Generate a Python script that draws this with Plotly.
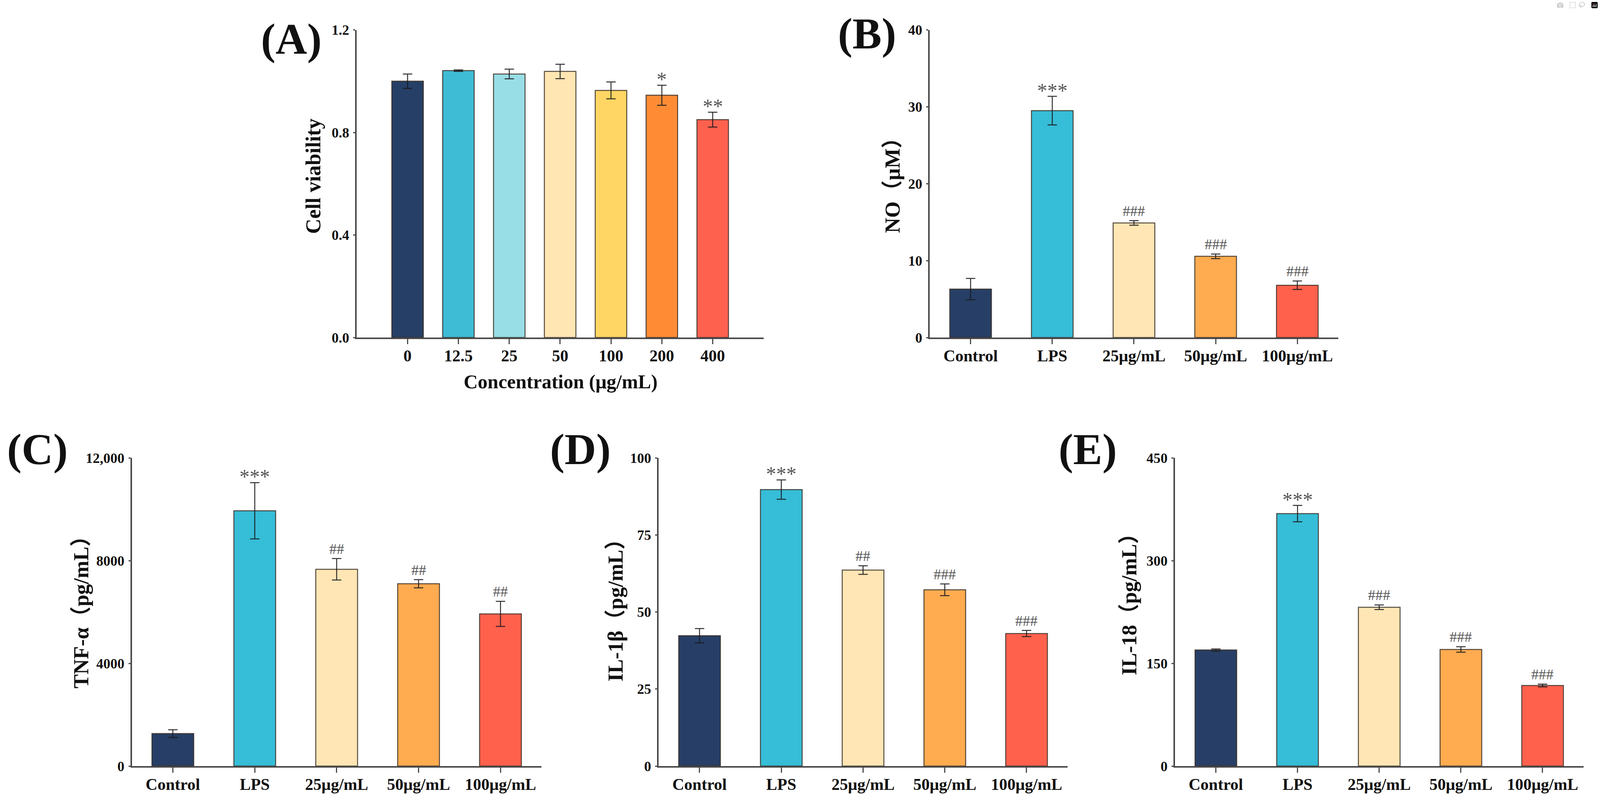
import plotly.graph_objects as go

W, H = 4149, 2076

# ---------------- data ----------------
conc_labels = ["0", "12.5", "25", "50", "100", "200", "400"]
viability = [1.00, 1.041, 1.028, 1.038, 0.964, 0.945, 0.850]
viability_err = [0.028, 0.003, 0.019, 0.028, 0.033, 0.039, 0.029]
viability_sig = ["", "", "", "", "", "*", "**"]

groups = ["Control", "LPS", "25μg/mL", "50μg/mL", "100μg/mL"]

no_vals = [6.3, 29.5, 14.9, 10.56, 6.8]
no_err = [1.38, 1.86, 0.3, 0.3, 0.55]
no_sig = ["", "***", "###", "###", "###"]

tnf_vals = [1265, 9940, 7660, 7100, 5925]
tnf_err = [150, 1095, 418, 160, 488]
tnf_sig = ["", "***", "##", "##", "##"]

il1b_vals = [42.3, 89.7, 63.6, 57.2, 43.0]
il1b_err = [2.3, 3.15, 1.4, 1.9, 1.0]
il1b_sig = ["", "***", "##", "###", "###"]

il18_vals = [169.5, 368.6, 231.9, 170.3, 117.6]
il18_err = [1.5, 12.0, 3.4, 4.0, 2.0]
il18_sig = ["", "***", "###", "###", "###"]

colors_a = ["#263F66", "#3EBCD6", "#98DEE6", "#FFE6B3", "#FFD663", "#FF8C35", "#FF614F"]
colors_g = ["#273F66", "#36BDD7", "#FFE6B4", "#FFAB50", "#FF614D"]

# ---------------- layout helpers ----------------
FONT = "Liberation Serif, Times New Roman, Noto Sans CJK SC, serif"
AXC = "#4a4a4a"

def px_x(v):
    return v / W

def px_y(v):
    return 1 - v / H

panels = [
    dict(cats=conc_labels, vals=viability, err=viability_err, sig=viability_sig, colors=colors_a,
         bw=0.62, xr=[-1, 7], dx=(925, 1980), dy=(76.5, 864), ymax=1.2,
         tv=[0, 0.4, 0.8, 1.2], tt=["0.0", "0.4", "0.8", "1.2"],
         ytitle="Cell viability", ytpos=(812, 451), label="(A)", lpos=(755, 100)),
    dict(cats=groups, vals=no_vals, err=no_err, sig=no_sig, colors=colors_g,
         bw=0.51, xr=[-0.5, 4.5], dx=(2411, 3470), dy=(76.5, 864), ymax=40,
         tv=[0, 10, 20, 30, 40], tt=["0", "10", "20", "30", "40"],
         ytitle="NO（μM）", ytpos=(2315, 461), label="(B)", lpos=(2248, 86)),
    dict(cats=groups, vals=tnf_vals, err=tnf_err, sig=tnf_sig, colors=colors_g,
         bw=0.51, xr=[-0.5, 4.5], dx=(342, 1404), dy=(1172, 1961), ymax=12000,
         tv=[0, 4000, 8000, 12000], tt=["0", "4000", "8000", "12,000"],
         ytitle="TNF-α（pg/mL）", ytpos=(211, 1554), label="(C)", lpos=(97, 1150)),
    dict(cats=groups, vals=il1b_vals, err=il1b_err, sig=il1b_sig, colors=colors_g,
         bw=0.51, xr=[-0.5, 4.5], dx=(1708, 2768), dy=(1172, 1961), ymax=100,
         tv=[0, 25, 50, 75, 100], tt=["0", "25", "50", "75", "100"],
         ytitle="IL-1β（pg/mL）", ytpos=(1596, 1549), label="(D)", lpos=(1505, 1150)),
    dict(cats=groups, vals=il18_vals, err=il18_err, sig=il18_sig, colors=colors_g,
         bw=0.51, xr=[-0.5, 4.5], dx=(3047, 4106), dy=(1172, 1961), ymax=450,
         tv=[0, 150, 300, 450], tt=["0", "150", "300", "450"],
         ytitle="IL-18（pg/mL）", ytpos=(2928, 1534), label="(E)", lpos=(2821, 1150)),
]

fig = go.Figure()
layout = dict(
    width=W, height=H,
    margin=dict(l=0, r=0, t=0, b=0, autoexpand=False),
    paper_bgcolor="white", plot_bgcolor="white",
    showlegend=False,
    font=dict(family=FONT, color="#111"),
)
annotations = []

for i, p in enumerate(panels):
    n = i + 1
    xa = "x" if n == 1 else f"x{n}"
    ya = "y" if n == 1 else f"y{n}"
    xkey = "xaxis" if n == 1 else f"xaxis{n}"
    ykey = "yaxis" if n == 1 else f"yaxis{n}"
    idx = list(range(len(p["cats"])))

    fig.add_trace(go.Bar(
        x=idx, y=p["vals"], width=p["bw"],
        marker=dict(color=p["colors"], line=dict(color="rgba(55,45,35,0.85)", width=2.5)),
        error_y=dict(type="data", array=p["err"], visible=True,
                     color="rgba(25,25,30,0.9)", thickness=2.5, width=12),
        xaxis=xa, yaxis=ya, hoverinfo="skip",
    ))

    layout[xkey] = dict(
        domain=[px_x(p["dx"][0]), px_x(p["dx"][1])],
        anchor=ya, range=p["xr"],
        tickvals=idx, ticktext=p["cats"],
        showline=True, linecolor=AXC, linewidth=4,
        ticks="outside", ticklen=13, tickwidth=3, tickcolor=AXC,
        ticklabelstandoff=-6, automargin=False,
        tickfont=dict(family=FONT, size=42, color="#111", weight="bold"),
        showgrid=False, zeroline=False, fixedrange=True,
    )
    layout[ykey] = dict(
        domain=[px_y(p["dy"][1]), px_y(p["dy"][0])],
        anchor=xa, range=[0, p["ymax"]],
        tickvals=p["tv"], ticktext=p["tt"],
        showline=True, linecolor=AXC, linewidth=4,
        ticks="outside", ticklen=5, tickwidth=3, tickcolor=AXC,
        ticklabelstandoff=3, automargin=False,
        tickfont=dict(family=FONT, size=36, color="#111", weight="bold"),
        showgrid=False, zeroline=False, fixedrange=True,
    )

    # significance marks
    for j, (v, e, s) in enumerate(zip(p["vals"], p["err"], p["sig"])):
        if not s:
            continue
        star = s.startswith("*")
        annotations.append(dict(
            x=j, y=v + e, xref=xa, yref=ya, text=s, showarrow=False,
            xanchor="center", yanchor="bottom",
            yshift=-16 if star else 2,
            font=dict(family=FONT, size=52 if star else 38, color="#555"),
        ))

    # y-axis title
    annotations.append(dict(
        x=px_x(p["ytpos"][0]), y=px_y(p["ytpos"][1]), xref="paper", yref="paper",
        text=p["ytitle"], textangle=-90, showarrow=False,
        xanchor="center", yanchor="middle",
        font=dict(family=FONT, size=54, color="#111", weight="bold"),
    ))
    # panel label
    annotations.append(dict(
        x=px_x(p["lpos"][0]), y=px_y(p["lpos"][1]), xref="paper", yref="paper",
        text=p["label"], showarrow=False, xanchor="center", yanchor="middle",
        font=dict(family=FONT, size=112, color="#111", weight="bold"),
    ))

# x-axis title of panel A
annotations.append(dict(
    x=px_x(1454), y=px_y(977), xref="paper", yref="paper",
    text="Concentration (μg/mL)", showarrow=False, xanchor="center", yanchor="middle",
    font=dict(family=FONT, size=50, color="#111", weight="bold"),
))

layout["annotations"] = annotations
fig.update_layout(**layout)

fit_script = (
    "document.documentElement.style.margin='0';"
    "document.body.style.margin='0';document.body.style.overflow='hidden';"
    "var gd=document.getElementById('{plot_id}');"
    "var w=document.documentElement.clientWidth||window.innerWidth;"
    "var h=document.documentElement.clientHeight||window.innerHeight;"
    "if(w>100&&h>100&&(Math.abs(w-%d)>1||Math.abs(h-%d)>1)){Plotly.relayout(gd,{width:w,height:h});}"
    % (W, H)
)
fig.write_html("out.html", post_script=fit_script)
